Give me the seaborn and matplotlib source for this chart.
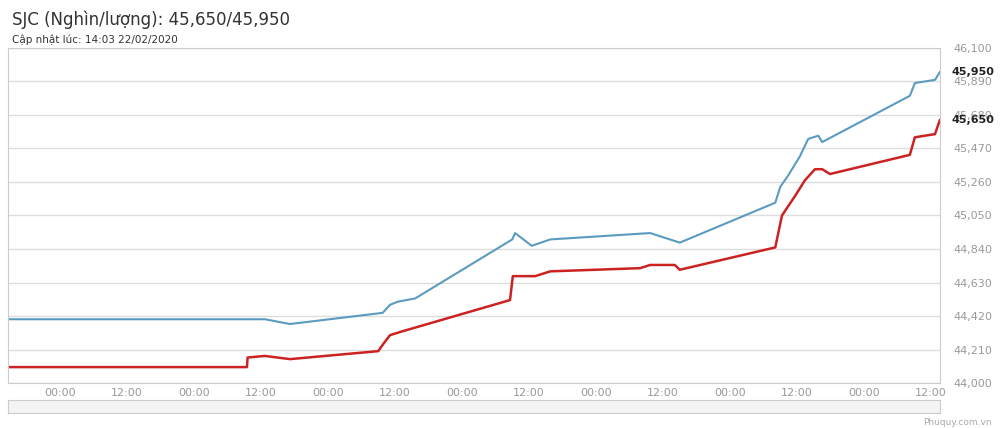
import matplotlib
matplotlib.use('Agg')
import matplotlib.pyplot as plt
import seaborn as sns
import pandas as pd
import numpy as np

# hours from the first 00:00 tick
buy_hours = [-9.3, 33.5, 33.6, 36.7, 41.2, 57.0, 57.8, 59.1, 60.9, 80.6, 81.1, 85.1, 86.9, 87.8,
             103.9, 105.7, 110.1, 111.0, 128.1, 129.3, 131.6, 133.4, 135.2, 136.5, 137.9,
             152.2, 153.1, 156.7, 157.6]
buy_vals = [44100, 44100, 44160, 44170, 44150, 44200, 44240, 44300, 44320, 44520, 44670, 44670, 44690, 44700,
            44720, 44740, 44740, 44710, 44850, 45050, 45170, 45270, 45340, 45340, 45310,
            45430, 45540, 45560, 45650]
sell_hours = [-9.3, 36.7, 41.2, 57.8, 59.1, 60.5, 63.6, 81.0, 81.5, 84.5, 87.8, 105.7, 111.0,
              128.1, 129.0, 130.4, 132.5, 134.0, 135.8, 136.5, 152.2, 153.1, 156.7, 157.6]
sell_vals = [44400, 44400, 44370, 44440, 44490, 44510, 44530, 44900, 44940, 44860, 44900, 44940, 44880,
             45130, 45230, 45300, 45420, 45530, 45550, 45510, 45800, 45880, 45900, 45950]
y_ticks = [44000, 44210, 44420, 44630, 44840, 45050, 45260, 45470, 45680, 45890, 46100]
x_ticks = list(range(0, 157, 12))
x_labels = ['00:00' if h % 24 == 0 else '12:00' for h in x_ticks]

sns.set_style('white')
plt.rcParams['font.family'] = ['DejaVu Sans']

fig = plt.figure(figsize=(10, 4.28), dpi=100)
ax = fig.add_axes([0.008, 0.105, 0.932, 0.783])

buy = pd.DataFrame({'h': buy_hours, 'v': buy_vals})
sell = pd.DataFrame({'h': sell_hours, 'v': sell_vals})
sns.lineplot(data=sell, x='h', y='v', color='#5b9bc0', lw=1.5, ax=ax, sort=False)
sns.lineplot(data=buy, x='h', y='v', color='#cc2222', lw=1.8, ax=ax, sort=False)

ax.set_xlim(-9.3, 157.6)
ax.set_ylim(44000, 46100)
ax.set_yticks(y_ticks)
ax.set_yticklabels([f'{t:,}' for t in y_ticks])
ax.yaxis.tick_right()
ax.tick_params(axis='y', length=0, labelsize=8, colors='#999999', pad=10)
ax.set_xticks(x_ticks)
ax.set_xticklabels(x_labels)
ax.tick_params(axis='x', length=0, labelsize=8, colors='#999999')
ax.grid(axis='y', color='#dddddd', lw=1)
ax.set_xlabel('')
ax.set_ylabel('')
for s in ax.spines.values():
    s.set_color('#cccccc')

ax.text(1.012, (45950 - 44000) / 2100, '45,950', transform=ax.transAxes, fontsize=8,
        fontweight='bold', va='center', color='#222222')
ax.text(1.012, (45650 - 44000) / 2100, '45,650', transform=ax.transAxes, fontsize=8,
        fontweight='bold', va='center', color='#222222')

fig.text(0.012, 0.955, 'SJC (Nghìn/lượng): 45,650/45,950', fontsize=12, color='#333333', va='center')
fig.text(0.012, 0.908, 'Cập nhật lúc: 14:03 22/02/2020', fontsize=7.5, color='#333333', va='center')

# scrollbar
sb = fig.add_axes([0.008, 0.035, 0.932, 0.03])
sb.set_xticks([]); sb.set_yticks([])
sb.set_facecolor('#f4f4f4')
for s in sb.spines.values():
    s.set_color('#cccccc')
fig.text(0.992, 0.008, 'Phuquy.com.vn', fontsize=6.5, color='#aaaaaa', ha='right')

fig.savefig('out.png', dpi=100)
